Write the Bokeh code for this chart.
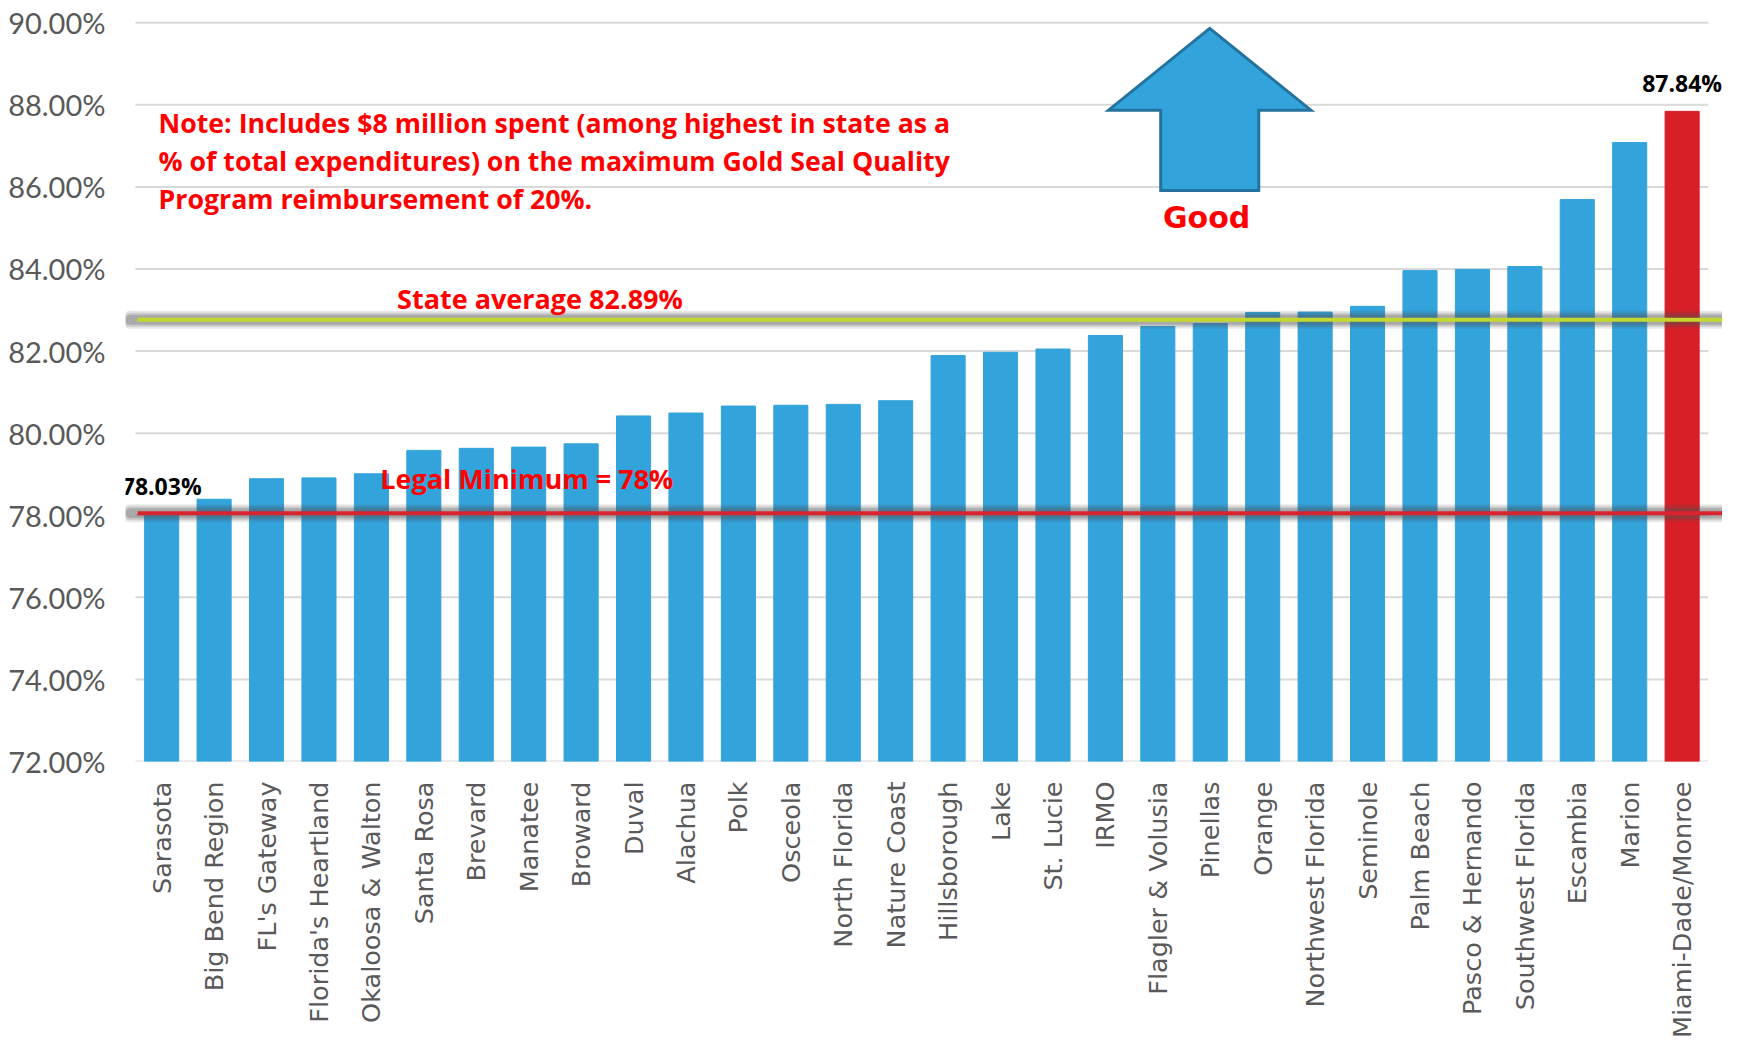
import math
from bokeh.plotting import figure
from bokeh.models import Range1d, FixedTicker, Label, ColumnDataSource
from bokeh.embed import file_html
from bokeh.resources import INLINE
from bokeh.core.properties import value

# ---------------- data ----------------
categories = ["Sarasota", "Big Bend Region", "FL's Gateway", "Florida's Heartland",
              "Okaloosa & Walton", "Santa Rosa", "Brevard", "Manatee", "Broward",
              "Duval", "Alachua", "Polk", "Osceola", "North Florida", "Nature Coast",
              "Hillsborough", "Lake", "St. Lucie", "IRMO", "Flagler & Volusia",
              "Pinellas", "Orange", "Northwest Florida", "Seminole", "Palm Beach",
              "Pasco & Hernando", "Southwest Florida", "Escambia", "Marion",
              "Miami-Dade/Monroe"]
values = [78.03, 78.39, 78.89, 78.91, 79.01, 79.58, 79.63, 79.66, 79.74,
          80.42, 80.49, 80.66, 80.68, 80.70, 80.79,
          81.89, 81.97, 82.05, 82.38, 82.60,
          82.67, 82.94, 82.95, 83.09, 83.96,
          83.99, 84.06, 85.69, 87.08, 87.84]
highlight = "Miami-Dade/Monroe"
labeled = ["Sarasota", "Miami-Dade/Monroe"]

y_ticks = [72, 74, 76, 78, 80, 82, 84, 86, 88, 90]
y_tick_labels = ["72.00%", "74.00%", "76.00%", "78.00%", "80.00%",
                 "82.00%", "84.00%", "86.00%", "88.00%", "90.00%"]

state_avg_text = "State average 82.89%"
state_avg_drawn = 82.76
legal_min_text = "Legal Minimum = 78%"
legal_min_drawn = 78.05

note_lines = ["Note: Includes $8 million spent (among highest in state as a",
              "% of total expenditures) on the maximum Gold Seal Quality",
              "Program reimbursement of 20%."]

# ---------------- styles ----------------
BLUE = "#33A3DC"
RED_BAR = "#D81F28"
GRID = "#D9D9D9"
AXIS_TXT = "#595959"
RED_TXT = "#FF0000"
ANN_FONT = "Open Sans"

n = len(categories)
xs = [i + 0.5 for i in range(n)]
colors = [RED_BAR if c == highlight else BLUE for c in categories]
src = ColumnDataSource(dict(x=xs, top=values, color=colors, cat=categories))

p = figure(width=1722, height=1041,
           x_range=Range1d(-0.19, 30.27), y_range=Range1d(72, 90.2),
           output_backend="svg", toolbar_location=None,
           min_border_left=125, min_border_right=0,
           min_border_top=14, min_border_bottom=270)
p.outline_line_color = None
p.xgrid.visible = False
p.ygrid.visible = False
p.background_fill_color = "white"
p.border_fill_color = "white"

# gridlines (end at the category area edge)
p.segment(x0=[0] * len(y_ticks), x1=[n] * len(y_ticks), y0=y_ticks, y1=y_ticks,
          line_color=GRID, line_width=2)

# bars
p.vbar(x="x", top="top", bottom=72, width=0.65, fill_color="color",
       line_color="color", line_width=1, source=src)

# reference lines with soft shadow
for yv, col in [(state_avg_drawn, "#C2D82E"), (legal_min_drawn, "#D9232E")]:
    for w, a in [(18, 0.13), (14, 0.19), (10, 0.27)]:
        p.line(x=[-0.1, 30.4], y=[yv, yv], line_color="#505050", line_alpha=a,
               line_width=w, line_cap="round")
    p.line(x=[0.04, 30.27], y=[yv, yv], line_color=col, line_width=4)

# data labels
lab_x = [xs[categories.index(c)] for c in labeled]
lab_y = [values[categories.index(c)] for c in labeled]
lab_t = ["%.2f%%" % v for v in lab_y]
p.text(x=lab_x, y=lab_y, text=lab_t, y_offset=-28, text_align="center",
       text_baseline="alphabetic", text_font=value("Open Sans"), text_font_style="bold",
       text_font_size="23px", text_color="black")

# note text
for line, yb in zip(note_lines, [87.57, 86.64, 85.71]):
    p.add_layout(Label(x=0.44, y=yb, text=line, text_font=ANN_FONT,
                       text_font_style="bold", text_font_size="26.7px",
                       text_color=RED_TXT, text_baseline="alphabetic"))

p.add_layout(Label(x=4.99, y=83.28, text=state_avg_text, text_font=ANN_FONT,
                   text_font_style="bold", text_font_size="27px",
                   text_color=RED_TXT, text_baseline="alphabetic"))
p.add_layout(Label(x=4.67, y=78.90, text=legal_min_text, text_font=ANN_FONT,
                   text_font_style="bold", text_font_size="27px",
                   text_color=RED_TXT, text_baseline="alphabetic"))

# "Good" arrow
ax, tip, head_base, head_half, shaft_half, bottom = 20.49, 89.86, 87.87, 1.93, 0.935, 85.91
arrow_x = [ax, ax + head_half, ax + shaft_half, ax + shaft_half,
           ax - shaft_half, ax - shaft_half, ax - head_half]
arrow_y = [tip, head_base, head_base, bottom, bottom, head_base, head_base]
p.patch(arrow_x, arrow_y, fill_color=BLUE, line_color="#24739F", line_width=3,
        line_join="miter")
p.add_layout(Label(x=20.43, y=85.25, text="Good", text_font="DejaVu Sans",
                   text_font_style="bold", text_font_size="30px",
                   text_color=RED_TXT, text_baseline="alphabetic",
                   text_align="center"))

# axes
p.yaxis.ticker = FixedTicker(ticks=y_ticks)
p.yaxis.major_label_overrides = {t: l for t, l in zip(y_ticks, y_tick_labels)}
p.yaxis.axis_line_color = None
p.yaxis.major_tick_line_color = None
p.yaxis.minor_tick_line_color = None
p.yaxis.major_tick_out = 0
p.yaxis.major_label_standoff = 20
p.yaxis.major_label_text_font = "Lato"
p.yaxis.major_label_text_font_size = "29px"
p.yaxis.major_label_text_color = AXIS_TXT

p.xaxis.ticker = FixedTicker(ticks=xs)
p.xaxis.major_label_overrides = {x: c for x, c in zip(xs, categories)}
p.xaxis.major_label_orientation = math.pi / 2
p.xaxis.axis_line_color = None
p.xaxis.major_tick_line_color = None
p.xaxis.minor_tick_line_color = None
p.xaxis.major_tick_out = 0
p.xaxis.major_label_standoff = 20
p.xaxis.major_label_text_font = "DejaVu Sans"
p.xaxis.major_label_text_font_size = "25.5px"
p.xaxis.major_label_text_color = AXIS_TXT

open("out.html", "w").write(file_html(p, INLINE))
